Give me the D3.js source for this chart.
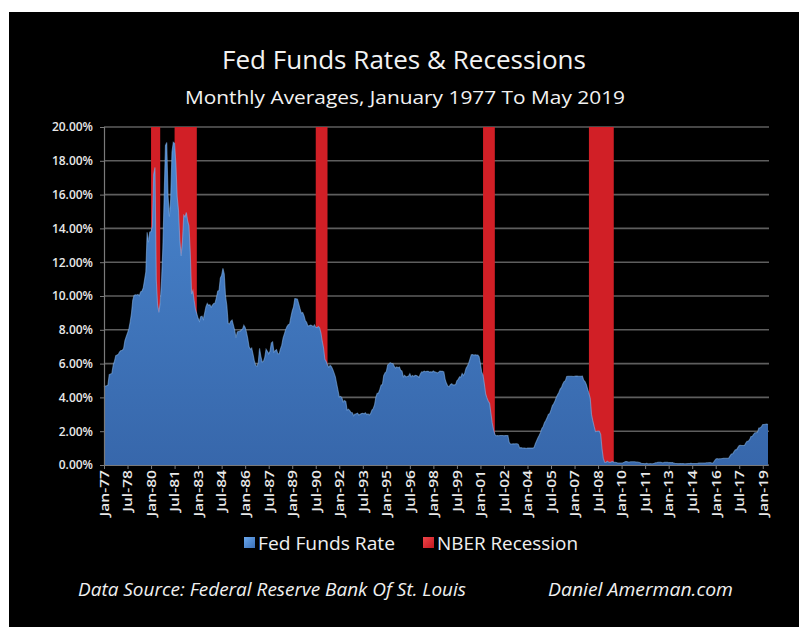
<!DOCTYPE html>
<html>
<head>
<meta charset="utf-8">
<script src="https://cdn.jsdelivr.net/npm/d3@7"></script>
<style>
  html, body { margin: 0; padding: 0; background: #ffffff; }
  svg { display: block; }
  text { font-family: "Open Sans", "DejaVu Sans", sans-serif; }
</style>
</head>
<body>
<svg id="chart" width="799" height="627"></svg>
<script>
// ---------------- DATA ----------------
const titleText = "Fed Funds Rates & Recessions";
const subtitleText = "Monthly Averages, January 1977 To May 2019";
const seriesNames = ["Fed Funds Rate", "NBER Recession"];
const sourceText = "Data Source:  Federal Reserve Bank Of St. Louis";
const creditText = "Daniel Amerman.com";

const startYear = 1977; // first month = January 1977

// Monthly effective Fed Funds rate (%), Jan 1977 - May 2019
const fedFundsRate = [
  4.61, 4.68, 4.69, 4.73, 5.35, 5.39, 5.42, 5.90, 6.14, 6.47, 6.51, 6.56,
  6.70, 6.78, 6.79, 6.89, 7.36, 7.60, 7.81, 8.04, 8.45, 8.96, 9.76, 10.03,
  10.07, 10.06, 10.09, 10.01, 10.24, 10.29, 10.47, 10.94, 11.43, 13.77, 13.18, 13.78,
  13.82, 14.13, 17.19, 17.61, 10.98, 9.47, 9.03, 9.61, 10.87, 12.81, 15.85, 18.90,
  19.08, 15.93, 14.70, 15.72, 18.52, 19.10, 19.04, 17.82, 15.87, 15.08, 13.31, 12.37,
  13.22, 14.78, 14.68, 14.94, 14.45, 14.15, 12.59, 10.12, 10.31, 9.71, 9.20, 8.95,
  8.68, 8.51, 8.77, 8.80, 8.63, 8.98, 9.37, 9.56, 9.45, 9.48, 9.34, 9.47,
  9.56, 9.59, 9.91, 10.29, 10.32, 11.06, 11.23, 11.64, 11.30, 9.99, 9.43, 8.38,
  8.35, 8.50, 8.58, 8.27, 7.97, 7.53, 7.88, 7.90, 7.92, 7.99, 8.05, 8.27,
  8.14, 7.86, 7.48, 6.99, 6.85, 6.92, 6.56, 6.17, 5.89, 5.85, 6.04, 6.91,
  6.43, 6.10, 6.13, 6.37, 6.85, 6.73, 6.58, 6.73, 7.22, 7.29, 6.69, 6.77,
  6.83, 6.58, 6.58, 6.87, 7.09, 7.51, 7.75, 8.01, 8.19, 8.30, 8.35, 8.76,
  9.12, 9.36, 9.85, 9.84, 9.81, 9.53, 9.24, 8.99, 9.02, 8.84, 8.55, 8.45,
  8.23, 8.24, 8.28, 8.26, 8.18, 8.29, 8.15, 8.13, 8.20, 8.11, 7.81, 7.31,
  6.91, 6.25, 6.12, 5.91, 5.78, 5.90, 5.82, 5.66, 5.45, 5.21, 4.81, 4.43,
  4.03, 4.06, 3.98, 3.73, 3.82, 3.76, 3.25, 3.30, 3.22, 3.10, 3.09, 2.92,
  3.02, 3.03, 3.07, 2.96, 3.00, 3.04, 3.06, 3.03, 3.09, 2.99, 3.02, 2.96,
  3.05, 3.25, 3.34, 3.56, 4.01, 4.25, 4.26, 4.47, 4.73, 4.76, 5.29, 5.45,
  5.53, 5.92, 5.98, 6.05, 6.01, 6.00, 5.85, 5.74, 5.80, 5.76, 5.80, 5.60,
  5.56, 5.22, 5.31, 5.22, 5.24, 5.27, 5.40, 5.22, 5.30, 5.24, 5.31, 5.29,
  5.25, 5.19, 5.39, 5.51, 5.50, 5.56, 5.52, 5.54, 5.54, 5.50, 5.52, 5.50,
  5.56, 5.51, 5.49, 5.45, 5.49, 5.56, 5.54, 5.55, 5.51, 5.07, 4.83, 4.68,
  4.63, 4.76, 4.81, 4.74, 4.74, 4.76, 4.99, 5.07, 5.22, 5.20, 5.42, 5.30,
  5.45, 5.73, 5.85, 6.02, 6.27, 6.53, 6.54, 6.50, 6.52, 6.51, 6.51, 6.40,
  5.98, 5.49, 5.31, 4.80, 4.21, 3.97, 3.77, 3.65, 3.07, 2.49, 2.09, 1.82,
  1.73, 1.74, 1.73, 1.75, 1.75, 1.75, 1.73, 1.74, 1.75, 1.75, 1.34, 1.24,
  1.24, 1.26, 1.25, 1.26, 1.26, 1.22, 1.01, 1.03, 1.01, 1.01, 1.00, 0.98,
  1.00, 1.01, 1.00, 1.00, 1.00, 1.03, 1.26, 1.43, 1.61, 1.76, 1.93, 2.16,
  2.28, 2.50, 2.63, 2.79, 3.00, 3.04, 3.26, 3.50, 3.62, 3.78, 4.00, 4.16,
  4.29, 4.49, 4.59, 4.79, 4.94, 4.99, 5.24, 5.25, 5.25, 5.25, 5.25, 5.24,
  5.25, 5.26, 5.26, 5.25, 5.25, 5.25, 5.26, 5.02, 4.94, 4.76, 4.49, 4.24,
  3.94, 2.98, 2.61, 2.28, 1.98, 2.00, 2.01, 2.00, 1.81, 0.97, 0.39, 0.16,
  0.15, 0.22, 0.18, 0.15, 0.18, 0.21, 0.16, 0.16, 0.15, 0.12, 0.12, 0.12,
  0.11, 0.13, 0.16, 0.20, 0.20, 0.18, 0.18, 0.19, 0.19, 0.19, 0.19, 0.18,
  0.17, 0.16, 0.14, 0.10, 0.09, 0.09, 0.07, 0.10, 0.08, 0.07, 0.08, 0.07,
  0.08, 0.10, 0.13, 0.14, 0.16, 0.16, 0.16, 0.13, 0.14, 0.16, 0.16, 0.16,
  0.14, 0.15, 0.14, 0.15, 0.11, 0.09, 0.09, 0.08, 0.08, 0.09, 0.08, 0.09,
  0.07, 0.07, 0.08, 0.09, 0.09, 0.10, 0.09, 0.09, 0.09, 0.09, 0.09, 0.12,
  0.11, 0.11, 0.11, 0.12, 0.12, 0.13, 0.13, 0.14, 0.14, 0.12, 0.12, 0.24,
  0.34, 0.38, 0.36, 0.37, 0.37, 0.38, 0.39, 0.40, 0.40, 0.40, 0.41, 0.54,
  0.65, 0.66, 0.79, 0.90, 0.91, 1.04, 1.15, 1.16, 1.15, 1.15, 1.16, 1.30,
  1.41, 1.42, 1.51, 1.69, 1.70, 1.82, 1.91, 1.91, 1.95, 2.19, 2.20, 2.27,
  2.40, 2.40, 2.41, 2.42, 2.39
];

// NBER recessions (peak month to trough month)
const recessionStart = ["1980-01", "1981-07", "1990-07", "2001-03", "2007-12"];
const recessionEnd   = ["1980-07", "1982-11", "1991-03", "2001-11", "2009-06"];

// Category-axis labels (every 18 months)
const xTickLabels = ["Jan-77","Jul-78","Jan-80","Jul-81","Jan-83","Jul-84","Jan-86","Jul-87",
  "Jan-89","Jul-90","Jan-92","Jul-93","Jan-95","Jul-96","Jan-98","Jul-99","Jan-01","Jul-02",
  "Jan-04","Jul-05","Jan-07","Jul-08","Jan-10","Jul-11","Jan-13","Jul-14","Jan-16","Jul-17","Jan-19"];
const xTickStep = 18;

const yTickValues = [0, 2, 4, 6, 8, 10, 12, 14, 16, 18, 20];
const yTickLabels = ["0.00%","2.00%","4.00%","6.00%","8.00%","10.00%","12.00%","14.00%","16.00%","18.00%","20.00%"];

// ---------------- DRAW ----------------
const svg = d3.select("#chart");
const W = 799, H = 627;
const plot = { left: 104, right: 768, top: 127, bottom: 465 };

const monthIndex = s => { const [y, m] = s.split("-").map(Number); return (y - startYear) * 12 + (m - 1); };

const x = d3.scaleLinear().domain([0, fedFundsRate.length - 1]).range([plot.left, plot.right]);
const y = d3.scaleLinear().domain([0, 20]).range([plot.bottom, plot.top]);

// background
svg.append("rect").attr("x", 9).attr("y", 12).attr("width", W - 9).attr("height", H - 12).attr("fill", "#000");

const defs = svg.append("defs");
const grad = defs.append("linearGradient").attr("id", "blueGrad")
  .attr("gradientUnits", "userSpaceOnUse").attr("x1", 0).attr("y1", plot.top).attr("x2", 0).attr("y2", plot.bottom);
grad.append("stop").attr("offset", "0%").attr("stop-color", "#4a87d0");
grad.append("stop").attr("offset", "100%").attr("stop-color", "#3767ab");

const lg = defs.append("linearGradient").attr("id", "legBlue").attr("x1", 0).attr("y1", 0).attr("x2", 1).attr("y2", 1);
lg.append("stop").attr("offset", "0%").attr("stop-color", "#6aa8ee");
lg.append("stop").attr("offset", "100%").attr("stop-color", "#3b70b8");
const lr = defs.append("linearGradient").attr("id", "legRed").attr("x1", 0).attr("y1", 0).attr("x2", 1).attr("y2", 1);
lr.append("stop").attr("offset", "0%").attr("stop-color", "#f0454a");
lr.append("stop").attr("offset", "100%").attr("stop-color", "#c0181f");

// gridlines
svg.append("g").selectAll("line").data(yTickValues).join("line")
  .attr("x1", plot.left).attr("x2", plot.right + 1)
  .attr("y1", d => y(d)).attr("y2", d => y(d))
  .attr("stroke", "#5e5e5e").attr("stroke-width", 1.6);

// recessions
const recessions = recessionStart.map((s, i) => ({ s: monthIndex(s), e: monthIndex(recessionEnd[i]) }));
svg.append("g").selectAll("rect").data(recessions).join("rect")
  .attr("x", d => x(d.s)).attr("width", d => x(d.e + 1) - x(d.s))
  .attr("y", y(20)).attr("height", y(0) - y(20))
  .attr("fill", "#d11f26");

// fed funds area
const area = d3.area().x((d, i) => x(i)).y0(y(0)).y1(d => y(d));
svg.append("path").datum(fedFundsRate).attr("d", area).attr("fill", "url(#blueGrad)");
const line = d3.line().x((d, i) => x(i)).y(d => y(d));
svg.append("path").datum(fedFundsRate).attr("d", line)
  .attr("fill", "none").attr("stroke", "#86b8ef").attr("stroke-width", 1.1).attr("stroke-opacity", 0.55);

// axes
const yAxis = d3.axisLeft(y).tickValues(yTickValues).tickFormat((d, i) => yTickLabels[i]).tickSize(4).tickPadding(7);
const gy = svg.append("g").attr("transform", `translate(${plot.left},0)`).call(yAxis);
gy.select(".domain").attr("stroke", "#7a7a7a").attr("stroke-width", 1.2);
gy.selectAll(".tick line").attr("stroke", "#7a7a7a");
gy.selectAll(".tick text").attr("fill", "#e8e8e8").attr("font-size", 12).attr("font-weight", 600)
  .style("font-family", '"Open Sans", sans-serif');

const xTickIdx = xTickLabels.map((d, i) => i * xTickStep);
const xAxis = d3.axisBottom(x).tickValues(xTickIdx).tickFormat((d, i) => xTickLabels[i]).tickSize(4).tickSizeOuter(0);
const gx = svg.append("g").attr("transform", `translate(0,${plot.bottom})`).call(xAxis);
gx.select(".domain").attr("stroke", "#7a7a7a").attr("stroke-width", 1.2);
gx.selectAll(".tick line").attr("stroke", "#7a7a7a");
gx.selectAll(".tick text")
  .attr("fill", "#e8e8e8").attr("font-size", 12).attr("font-weight", 600)
  .style("font-family", '"Open Sans", sans-serif')
  .attr("text-anchor", "end").attr("x", 0).attr("y", 0).attr("dy", "0.36em")
  .attr("transform", "translate(0,5) rotate(-90) scale(1.3,1)");

// titles
svg.append("text").attr("x", 404).attr("y", 69).attr("text-anchor", "middle")
  .attr("fill", "#f2f2f2").attr("font-size", 26).attr("textLength", 364).attr("lengthAdjust", "spacingAndGlyphs")
  .text(titleText);
svg.append("text").attr("x", 405).attr("y", 104).attr("text-anchor", "middle")
  .attr("fill", "#f2f2f2").attr("font-size", 19).attr("textLength", 440).attr("lengthAdjust", "spacingAndGlyphs")
  .text(subtitleText);

// legend
const legend = [
  { name: seriesNames[0], sx: 244, tx: 258, tw: 137, fill: "url(#legBlue)" },
  { name: seriesNames[1], sx: 423, tx: 437, tw: 141, fill: "url(#legRed)" }
];
const lgG = svg.append("g");
lgG.selectAll("rect").data(legend).join("rect")
  .attr("x", d => d.sx).attr("y", 537).attr("width", 11).attr("height", 11).attr("fill", d => d.fill);
lgG.selectAll("text").data(legend).join("text")
  .attr("x", d => d.tx).attr("y", 550).attr("fill", "#f0f0f0").attr("font-size", 18)
  .attr("textLength", d => d.tw).attr("lengthAdjust", "spacingAndGlyphs")
  .text(d => d.name);

// footer
svg.append("text").attr("x", 78).attr("y", 596).attr("fill", "#f0f0f0").attr("font-size", 18)
  .attr("font-style", "italic").attr("textLength", 388).attr("lengthAdjust", "spacingAndGlyphs").text(sourceText);
svg.append("text").attr("x", 548).attr("y", 596).attr("fill", "#f0f0f0").attr("font-size", 18)
  .attr("font-style", "italic").attr("textLength", 185).attr("lengthAdjust", "spacingAndGlyphs").text(creditText);
</script>
</body>
</html>
